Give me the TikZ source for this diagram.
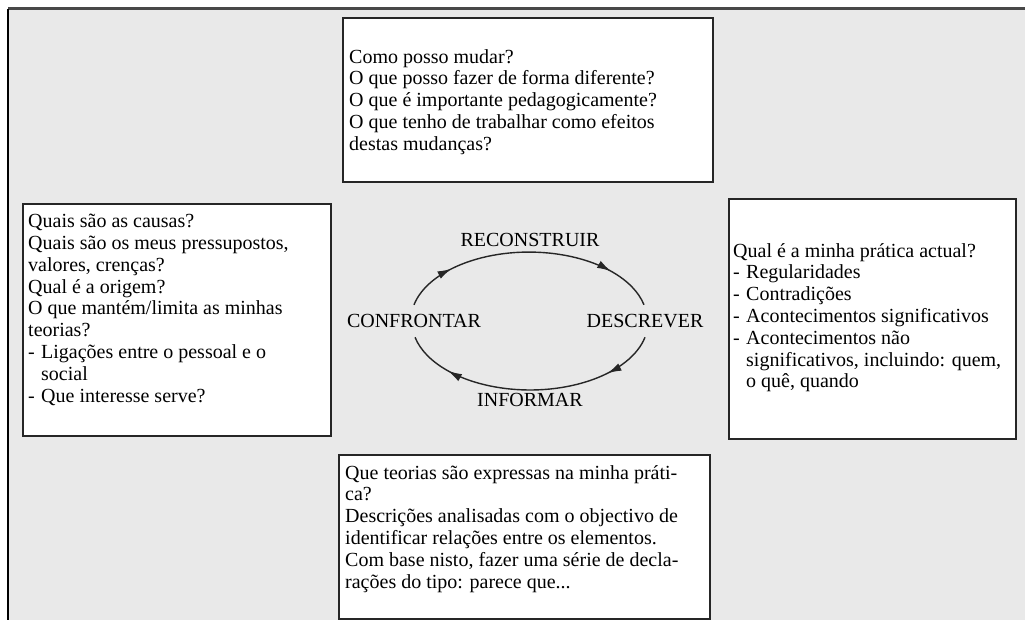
\documentclass[tikz,border=0pt]{standalone}
\usepackage{fontspec}
\setmainfont{Liberation Serif}
\usetikzlibrary{arrows.meta, positioning, decorations.markings, calc}

\definecolor{panelgray}{HTML}{E9E9E9}
\definecolor{framegray}{HTML}{484848}

\newcommand{\dashitem}{\makebox[13pt][l]{-}}
\newcommand{\hang}{\hspace*{13pt}}

\begin{document}
\begin{tikzpicture}[
    x=1pt, y=1pt,
    qbox/.style={draw=black!85, line width=1.6pt, fill=white, anchor=north west, inner sep=0pt},
    qtxt/.style={align=left, inner sep=0pt, font=\fontsize{20}{21.8}\selectfont},
    lbl/.style={font=\fontsize{20}{22}\selectfont, inner sep=3pt},
    cyc/.style={line width=1.4pt, draw=black!85, postaction={decorate},
        decoration={markings,
            mark=at position 0.2 with {\arrow{Latex[length=14pt, width=8pt]}},
            mark=at position 0.82 with {\arrow{Latex[length=14pt, width=8pt]}}}}
]
    \useasboundingbox (0,0) rectangle (1025,-620);
    \fill[panelgray] (8,-9) rectangle (1025,-620);
    \draw[framegray, line width=3pt] (8,-9) -- (1025,-9);
    \draw[black, line width=2pt] (8,-9) -- (8,-620);

    % boxes
    \node[qbox, minimum width=370pt, minimum height=164pt] (qtop) at (342,-17) {};
    \node[qbox, minimum width=308pt, minimum height=232pt] (qleft) at (22,-203) {};
    \node[qbox, minimum width=287pt, minimum height=240pt] (qright) at (728,-198) {};
    \node[qbox, minimum width=371pt, minimum height=164pt] (qbot) at (338,-454) {};

    \node[qtxt, below right=32pt and 7pt of qtop.north west] (ttop) {
        Como posso mudar?\\
        O que posso fazer de forma diferente?\\
        O que é importante pedagogicamente?\\
        O que tenho de trabalhar como efeitos\\
        destas mudanças?};
    \node[qtxt, below right=11pt and 6pt of qleft.north west] (tleft) {
        Quais são as causas?\\
        Quais são os meus pressupostos,\\
        valores, crenças?\\
        Qual é a origem?\\
        O que mantém/limita as minhas\\
        teorias?\\
        \dashitem Ligações entre o pessoal e o\\
        \hang social\\
        \dashitem Que interesse serve?};
    \node[qtxt, below right=45pt and 5pt of qright.north west] (tright) {
        Qual é a minha prática actual?\\
        \dashitem Regularidades\\
        \dashitem Contradições\\
        \dashitem Acontecimentos significativos\\
        \dashitem Acontecimentos não\\
        \hang significativos, incluindo: quem,\\
        \hang o quê, quando};
    \node[qtxt, below right=11pt and 7pt of qbot.north west] (tbot) {
        Que teorias são expressas na minha práti-\\
        ca?\\
        Descrições analisadas com o objectivo de\\
        identificar relações entre os elementos.\\
        Com base nisto, fazer uma série de decla-\\
        rações do tipo: parece que...};

    % cycle
    \node[lbl] (rec) at (530,-240) {RECONSTRUIR};
    \node[lbl, outer ysep=6.5pt] (conf) at (414,-321) {CONFRONTAR};
    \node[lbl, outer ysep=6.5pt] (desc) at (645,-321) {DESCREVER};
    \node[lbl] (inf) at (530,-400) {INFORMAR};
    \draw[cyc] (conf.north) arc[start angle=167, end angle=13, x radius=118, y radius=68];
    \draw[cyc] (desc.south) arc[start angle=-13, end angle=-167, x radius=118, y radius=68];
\end{tikzpicture}
\end{document}
